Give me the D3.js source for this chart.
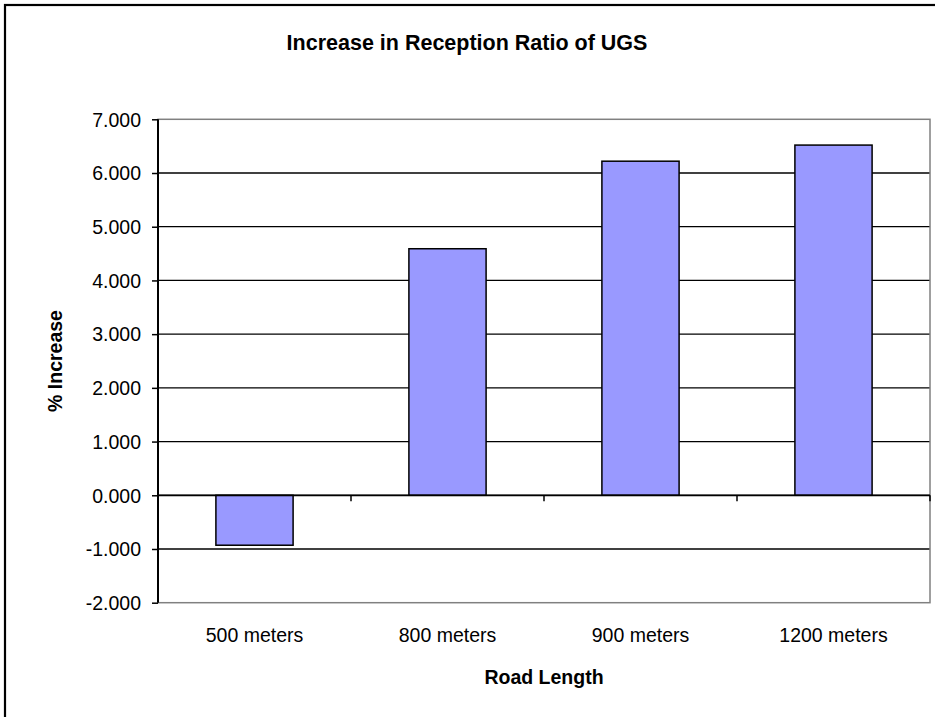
<!DOCTYPE html>
<html>
<head>
<meta charset="utf-8">
<script src="https://cdn.jsdelivr.net/npm/d3@7"></script>
<style>
  html, body { margin: 0; padding: 0; background: #fff; }
  svg { display: block; }
  text { font-family: "Liberation Sans", Arial, sans-serif; fill: #000; }
</style>
</head>
<body>
<svg id="chart" width="935" height="717"></svg>
<script>
const categories = ["500 meters", "800 meters", "900 meters", "1200 meters"];
const values = [-0.93, 4.59, 6.22, 6.52];
const yTicks = [-2, -1, 0, 1, 2, 3, 4, 5, 6, 7];
const chartTitle = "Increase in Reception Ratio of UGS";
const xTitle = "Road Length";
const yTitle = "% Increase";

const svg = d3.select("#chart");
const W = 935, H = 717;
const plot = { left: 158, right: 930, top: 119.3, bottom: 602.7 };

svg.append("rect").attr("x", 0).attr("y", 0).attr("width", W).attr("height", H).attr("fill", "#fff");
// outer chart border (extends beyond view)
svg.append("rect").attr("x", 5).attr("y", 5).attr("width", 1000).attr("height", 800)
  .attr("fill", "none").attr("stroke", "#000").attr("stroke-width", 2.2);

const x = d3.scaleBand().domain(categories).range([plot.left, plot.right])
  .paddingInner(0.6).paddingOuter(0.3);
const xCat = d3.scaleBand().domain(categories).range([plot.left, plot.right]);
const y = d3.scaleLinear().domain([-2, 7]).range([plot.bottom, plot.top]);

// gridlines
svg.append("g").selectAll("line").data(yTicks.filter(d => d > -2 && d < 7)).join("line")
  .attr("x1", plot.left).attr("x2", plot.right)
  .attr("y1", d => y(d)).attr("y2", d => y(d))
  .attr("stroke", "#000").attr("stroke-width", 1.3);

// plot area border (gray)
svg.append("rect").attr("x", plot.left).attr("y", plot.top)
  .attr("width", plot.right - plot.left).attr("height", plot.bottom - plot.top)
  .attr("fill", "none").attr("stroke", "#808080").attr("stroke-width", 1.5);

// bars
svg.append("g").selectAll("rect").data(values).join("rect")
  .attr("x", (d, i) => x(categories[i]))
  .attr("width", x.bandwidth())
  .attr("y", d => y(Math.max(0, d)))
  .attr("height", d => Math.abs(y(d) - y(0)))
  .attr("fill", "#9999FF").attr("stroke", "#000").attr("stroke-width", 1.5);

// y axis
const fmt = d => d3.format(".3f")(d).replace("\u2212", "-");
const yAxis = d3.axisLeft(y).tickValues(yTicks).tickFormat(fmt)
  .tickSize(6).tickPadding(11);
const gy = svg.append("g").attr("transform", `translate(${plot.left},0)`).call(yAxis);
gy.select(".domain").remove();
gy.selectAll(".tick line").attr("stroke", "#000").attr("stroke-width", 1.5);
gy.selectAll(".tick text").style("font-size", "19.5px").attr("dy", "0.35em");
svg.append("line").attr("x1", plot.left).attr("x2", plot.left)
  .attr("y1", plot.top).attr("y2", plot.bottom)
  .attr("stroke", "#000").attr("stroke-width", 2);

// x axis line at zero with tick marks between categories
svg.append("line").attr("x1", plot.left).attr("x2", plot.right)
  .attr("y1", y(0)).attr("y2", y(0)).attr("stroke", "#000").attr("stroke-width", 1.8);
const boundaries = categories.map(c => xCat(c) + xCat.bandwidth());
svg.append("g").selectAll("line").data(boundaries).join("line")
  .attr("x1", d => d).attr("x2", d => d)
  .attr("y1", y(0)).attr("y2", y(0) + 6)
  .attr("stroke", "#000").attr("stroke-width", 1.5);

// category labels
svg.append("g").selectAll("text").data(categories).join("text")
  .attr("x", d => xCat(d) + xCat.bandwidth() / 2)
  .attr("y", 641.7)
  .attr("text-anchor", "middle")
  .style("font-size", "19.5px")
  .text(d => d);

// titles
svg.append("text").attr("x", 467).attr("y", 50).attr("text-anchor", "middle")
  .style("font-size", "21.5px").style("font-weight", "bold").text(chartTitle);
svg.append("text").attr("x", (plot.left + plot.right) / 2).attr("y", 684)
  .attr("text-anchor", "middle").style("font-size", "19.5px").style("font-weight", "bold").text(xTitle);
svg.append("text").attr("transform", `translate(62,${(plot.top + plot.bottom) / 2}) rotate(-90)`)
  .attr("text-anchor", "middle").style("font-size", "19.5px").style("font-weight", "bold").text(yTitle);
</script>
</body>
</html>
